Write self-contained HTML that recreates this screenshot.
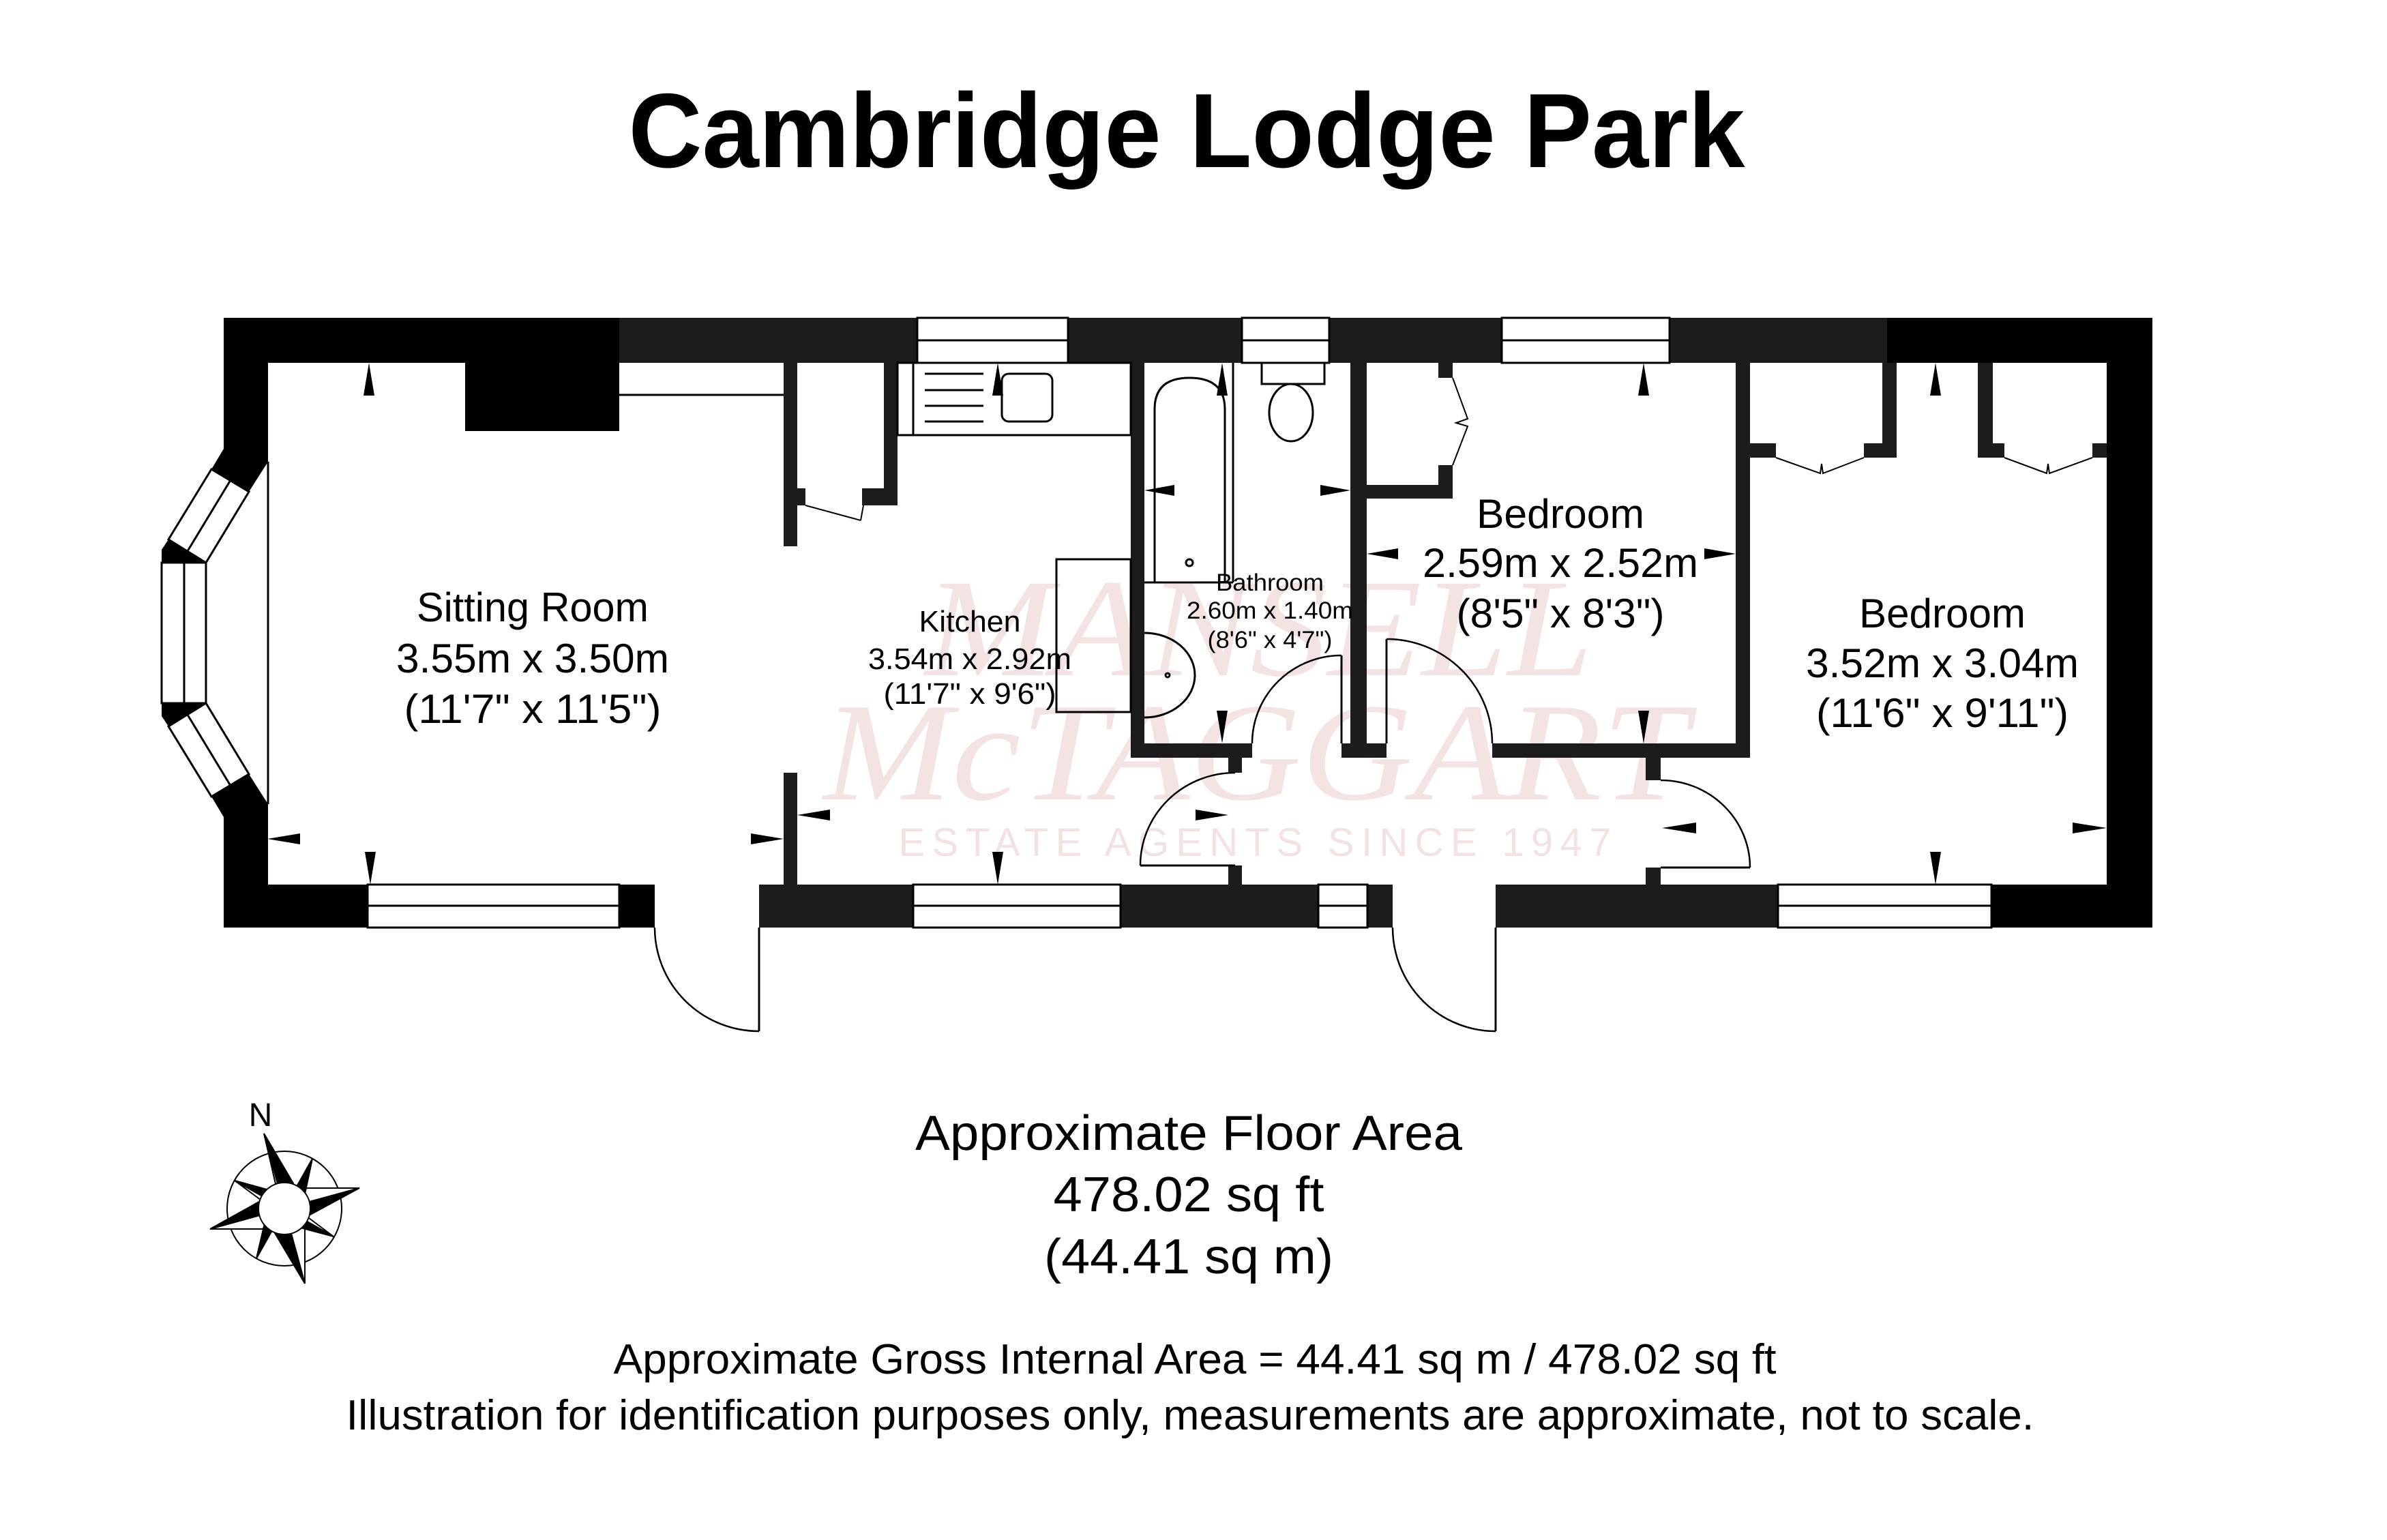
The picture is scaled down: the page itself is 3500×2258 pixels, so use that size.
<!DOCTYPE html>
<html><head><meta charset="utf-8"><style>html,body{margin:0;padding:0;background:#fff}svg{display:block}</style></head><body>
<svg xmlns="http://www.w3.org/2000/svg" width="3500" height="2258" viewBox="0 0 3500 2258">
<rect width="3500" height="2258" fill="#fff"/>
<g font-family="Liberation Serif, serif" font-style="italic" fill="#f4e3e3" text-anchor="middle">
<text x="1846" y="990" font-size="205" textLength="980" lengthAdjust="spacingAndGlyphs">MANSELL</text>
<text x="1841" y="1172" font-size="205" textLength="1268" lengthAdjust="spacingAndGlyphs">McTAGGART</text>
</g>
<text x="1840" y="1255" font-family="Liberation Sans, sans-serif" font-size="58" fill="#f2e2e2" text-anchor="middle" textLength="1045" lengthAdjust="spacing">ESTATE AGENTS SINCE 1947</text>

<text x="1740" y="245" font-family="Liberation Sans, sans-serif" font-weight="bold" font-size="155" text-anchor="middle" textLength="1637" lengthAdjust="spacingAndGlyphs">Cambridge Lodge Park</text>

<g fill="#1c1c1c">
<rect x="328" y="466" width="2828" height="66"/>
<rect x="328" y="466" width="580" height="66" fill="#000"/>
<rect x="2767" y="466" width="389" height="66" fill="#000"/>
<rect x="328" y="466" width="65" height="192" fill="#000"/>
<rect x="328" y="1198" width="65" height="162" fill="#000"/>
<polygon points="328,658 393,658 393,677 365,721 310,688" fill="#000"/>
<polygon points="247,791 302,825 237,825 237,806" fill="#000"/>
<polygon points="237,1031 302,1031 247,1065 237,1050" fill="#000"/>
<polygon points="310,1168 365,1135 393,1179 393,1198 328,1198" fill="#000"/>
<rect x="3089" y="466" width="67" height="894" fill="#000"/>
<rect x="328" y="1297" width="632" height="63" fill="#000"/>
<rect x="1113" y="1297" width="929" height="63"/>
<rect x="2193" y="1297" width="963" height="63"/>
<rect x="2920" y="1297" width="236" height="63" fill="#000"/>
<rect x="682" y="532" width="226" height="100" fill="#000"/>
<rect x="1149" y="532" width="20" height="269"/>
<rect x="1149" y="1133" width="20" height="164"/>
<rect x="1296" y="532" width="20" height="209"/>
<rect x="1149" y="716" width="32" height="25"/>
<rect x="1264" y="716" width="52" height="25"/>
<rect x="1658" y="532" width="20" height="579"/>
<rect x="1658" y="1090" width="178" height="21"/>
<rect x="1967" y="1090" width="66" height="21"/>
<rect x="1980" y="532" width="24" height="579"/>
<rect x="1801" y="1111" width="20" height="22"/>
<rect x="1801" y="1269" width="20" height="28"/>
<rect x="2545" y="532" width="21" height="579"/>
<rect x="2188" y="1090" width="378" height="21"/>
<rect x="1980" y="711" width="150" height="20"/>
<rect x="2109" y="682" width="21" height="49"/>
<rect x="2109" y="532" width="21" height="22"/>
<rect x="2413" y="1111" width="22" height="33"/>
<rect x="2413" y="1272" width="22" height="25"/>
<rect x="2566" y="650" width="38" height="21"/>
<rect x="2733" y="650" width="48" height="21"/>
<rect x="2760" y="532" width="21" height="139"/>
<rect x="2900" y="532" width="22" height="139"/>
<rect x="2900" y="650" width="39" height="21"/>
<rect x="3068" y="650" width="21" height="21"/>
</g>

<g fill="#fff" stroke="#000" stroke-width="3">
<rect x="1345" y="466" width="221" height="66"/>
<rect x="1821" y="466" width="128" height="66"/>
<rect x="2202" y="466" width="246" height="66"/>
<rect x="539" y="1297" width="369" height="63"/>
<rect x="1339" y="1297" width="304" height="63"/>
<rect x="1933" y="1297" width="72" height="63"/>
<rect x="2607" y="1297" width="313" height="63"/>
<polygon points="310,688 365,721 302,825 247,791"/>
<rect x="237" y="825" width="65" height="206"/>
<polygon points="302,1031 247,1065 310,1168 365,1135"/>
</g>
<g stroke="#000" stroke-width="3" fill="none">
<line x1="1345" y1="499" x2="1566" y2="499"/><line x1="1821" y1="499" x2="1949" y2="499"/><line x1="2202" y1="499" x2="2448" y2="499"/>
<line x1="539" y1="1328" x2="908" y2="1328"/><line x1="1339" y1="1328" x2="1643" y2="1328"/><line x1="1933" y1="1328" x2="2005" y2="1328"/><line x1="2607" y1="1328" x2="2920" y2="1328"/>
<line x1="338" y1="704" x2="275" y2="808"/><line x1="270" y1="825" x2="270" y2="1031"/><line x1="275" y1="1048" x2="338" y2="1152"/>
<line x1="393" y1="677" x2="393" y2="1179"/>
<line x1="908" y1="579" x2="1149" y2="579"/>
<line x1="1181" y1="741" x2="1262" y2="763" stroke-width="2"/><line x1="1262" y1="763" x2="1266" y2="741" stroke-width="2"/>
<rect x="1316" y="532" width="342" height="106"/>
<line x1="1339" y1="532" x2="1339" y2="638"/>
<line x1="1356" y1="548" x2="1442" y2="548"/><line x1="1356" y1="572" x2="1442" y2="572"/><line x1="1356" y1="595" x2="1442" y2="595"/><line x1="1356" y1="618" x2="1442" y2="618"/>
<rect x="1469" y="548" width="74" height="70" rx="10"/>
<rect x="1549" y="820" width="109" height="224"/>
<path d="M1693,854 L1693,600 Q1693,554 1744,554 Q1796,554 1796,600 L1796,854 Z"/>
<line x1="1808" y1="532" x2="1808" y2="854"/><line x1="1678" y1="854" x2="1808" y2="854"/>
<circle cx="1744" cy="825" r="5"/>
<rect x="1850" y="532" width="92" height="31"/>
<ellipse cx="1893" cy="605" rx="32" ry="42"/>
<path d="M1678,928 A74,62 0 0 1 1678,1052"/>
<circle cx="1712" cy="990" r="3"/>
<polyline points="2130,554 2152,614 2135,620 2152,625 2130,682" stroke-width="2"/>
<polyline points="2604,671 2669,694 2671,680 2673,694 2733,671" stroke-width="2"/>
<polyline points="2939,671 3001,694 3003,680 3005,694 3068,671" stroke-width="2"/>
<line x1="1113" y1="1360" x2="1113" y2="1512"/><path d="M960,1360 A153,152 0 0 0 1113,1512" stroke-width="2.5"/>
<line x1="2193" y1="1360" x2="2193" y2="1512"/><path d="M2042,1360 A151,152 0 0 0 2193,1512" stroke-width="2.5"/>
<line x1="1967" y1="1090" x2="1967" y2="961"/><path d="M1836,1090 A131,129 0 0 1 1967,961" stroke-width="2.5"/>
<line x1="2033" y1="1090" x2="2033" y2="937"/><path d="M2033,937 A155,153 0 0 1 2188,1090" stroke-width="2.5"/>
<line x1="1672" y1="1269" x2="1811" y2="1269"/><path d="M1672,1269 A139,136 0 0 1 1811,1133" stroke-width="2.5"/>
<line x1="2435" y1="1272" x2="2566" y2="1272"/><path d="M2435,1144 A131,128 0 0 1 2566,1272" stroke-width="2.5"/>
</g>

<g fill="#000">
<polygon points="541,532 533,580 549,580"/><polygon points="543,1297 535,1249 551,1249"/>
<polygon points="392,1230 440,1222 440,1238"/><polygon points="1149,1230 1101,1222 1101,1238"/>
<polygon points="1463,532 1455,580 1471,580"/><polygon points="1463,1297 1455,1249 1471,1249"/>
<polygon points="1169,1195 1217,1187 1217,1203"/><polygon points="1801,1195 1753,1187 1753,1203"/>
<polygon points="1792,532 1784,580 1800,580"/><polygon points="1792,1090 1784,1042 1800,1042"/>
<polygon points="1678,719 1722,711 1722,727"/><polygon points="1980,719 1936,711 1936,727"/>
<polygon points="2410,532 2402,580 2418,580"/><polygon points="2410,1090 2402,1042 2418,1042"/>
<polygon points="2004,812 2050,804 2050,820"/><polygon points="2545,812 2499,804 2499,820"/>
<polygon points="2838,532 2830,580 2846,580"/><polygon points="2838,1297 2830,1249 2846,1249"/>
<polygon points="2437,1214 2487,1206 2487,1222"/><polygon points="3089,1214 3039,1206 3039,1222"/>
</g>

<g font-family="Liberation Sans, sans-serif" text-anchor="middle" fill="#000">
<text x="781" y="911" font-size="60" textLength="340" lengthAdjust="spacingAndGlyphs">Sitting Room</text>
<text x="781" y="986" font-size="60" textLength="400" lengthAdjust="spacingAndGlyphs">3.55m x 3.50m</text>
<text x="781" y="1060" font-size="60" textLength="377" lengthAdjust="spacingAndGlyphs">(11'7" x 11'5")</text>
<text x="1422" y="926" font-size="44" textLength="149" lengthAdjust="spacingAndGlyphs">Kitchen</text>
<text x="1422" y="981" font-size="44" textLength="298" lengthAdjust="spacingAndGlyphs">3.54m x 2.92m</text>
<text x="1422" y="1032" font-size="44" textLength="253" lengthAdjust="spacingAndGlyphs">(11'7" x 9'6")</text>
<text x="1862" y="866" font-size="35" textLength="158" lengthAdjust="spacingAndGlyphs">Bathroom</text>
<text x="1862" y="907" font-size="35" textLength="244" lengthAdjust="spacingAndGlyphs">2.60m x 1.40m</text>
<text x="1862" y="950" font-size="35" textLength="183" lengthAdjust="spacingAndGlyphs">(8'6" x 4'7")</text>
<text x="2288" y="774" font-size="60" textLength="246" lengthAdjust="spacingAndGlyphs">Bedroom</text>
<text x="2288" y="846" font-size="60" textLength="404" lengthAdjust="spacingAndGlyphs">2.59m x 2.52m</text>
<text x="2288" y="920" font-size="60" textLength="305" lengthAdjust="spacingAndGlyphs">(8'5" x 8'3")</text>
<text x="2848" y="920" font-size="60" textLength="244" lengthAdjust="spacingAndGlyphs">Bedroom</text>
<text x="2848" y="993" font-size="60" textLength="400" lengthAdjust="spacingAndGlyphs">3.52m x 3.04m</text>
<text x="2848" y="1066" font-size="60" textLength="370" lengthAdjust="spacingAndGlyphs">(11'6" x 9'11")</text>
<text x="1743" y="1686" font-size="72" textLength="802" lengthAdjust="spacingAndGlyphs">Approximate Floor Area</text>
<text x="1743" y="1776" font-size="72" textLength="397" lengthAdjust="spacingAndGlyphs">478.02 sq ft</text>
<text x="1743" y="1867" font-size="72" textLength="424" lengthAdjust="spacingAndGlyphs">(44.41 sq m)</text>
<text x="1752" y="2014" font-size="62" textLength="1705" lengthAdjust="spacingAndGlyphs">Approximate Gross Internal Area = 44.41 sq m / 478.02 sq ft</text>
<text x="1745" y="2096" font-size="62" textLength="2475" lengthAdjust="spacingAndGlyphs">Illustration for identification purposes only, measurements are approximate, not to scale.</text>
<text x="382" y="1651" font-size="48">N</text>
</g>

<g stroke="#000" stroke-width="2">
<circle cx="417" cy="1772" r="84" fill="none"/>
<polygon points="387,1662 417,1772 405,1740" fill="#fff"/><polygon points="387,1662 417,1772 430,1735" fill="#000"/>
<polygon points="527,1742 417,1772 450,1742" fill="#fff"/><polygon points="527,1742 417,1772 453,1782" fill="#000"/>
<polygon points="447,1882 417,1772 447,1800" fill="#fff"/><polygon points="447,1882 417,1772 403,1808" fill="#000"/>
<polygon points="308,1802 417,1772 385,1802" fill="#fff"/><polygon points="308,1802 417,1772 380,1762" fill="#000"/>
<polygon points="458,1699 417,1772 435,1745" fill="#fff"/><polygon points="458,1699 417,1772 445,1760" fill="#000"/>
<polygon points="489,1813 417,1772 445,1780" fill="#fff"/><polygon points="489,1813 417,1772 440,1800" fill="#000"/>
<polygon points="376,1845 417,1772 400,1800" fill="#fff"/><polygon points="376,1845 417,1772 390,1785" fill="#000"/>
<polygon points="344,1731 417,1772 390,1765" fill="#fff"/><polygon points="344,1731 417,1772 395,1745" fill="#000"/>
<circle cx="417" cy="1772" r="38" fill="#fff"/>
</g>
</svg>
</body></html>
